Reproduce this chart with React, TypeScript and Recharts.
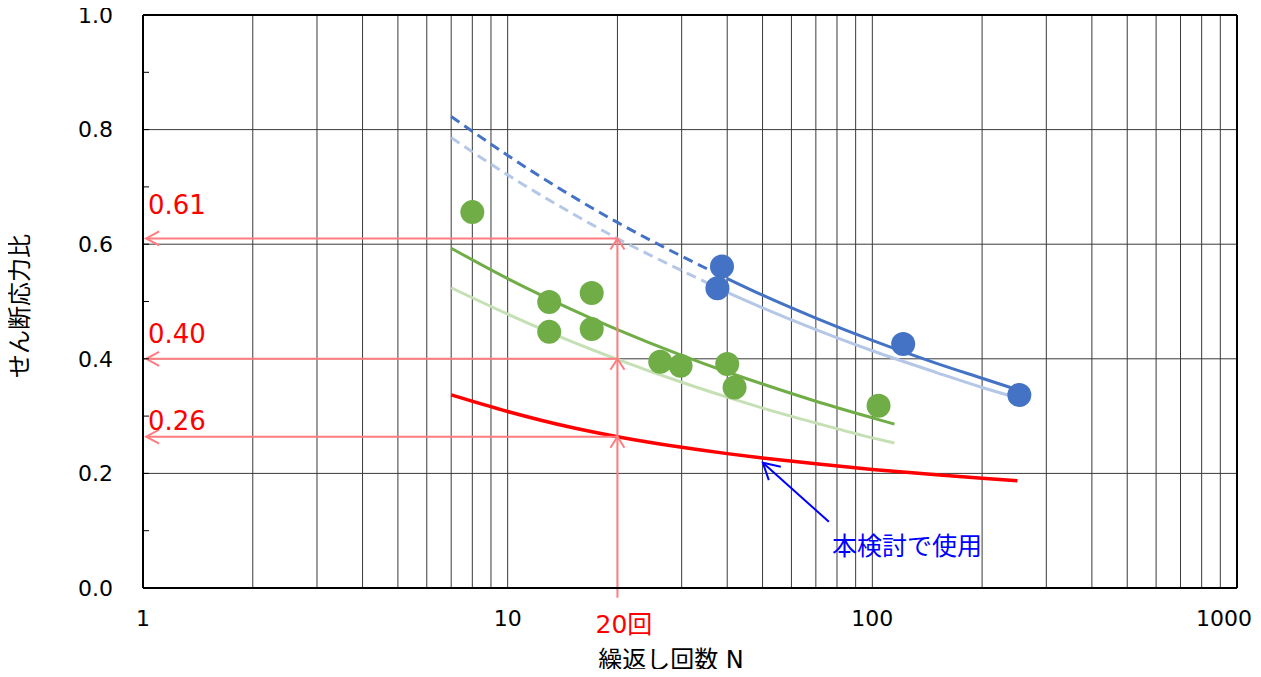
import {
  CartesianGrid,
  ComposedChart,
  Line,
  ReferenceDot,
  ReferenceLine,
  Scatter,
  XAxis,
  YAxis,
} from "recharts";

// fitted curves
const nSteps = [7, 10, 15, 20, 30, 40, 50, 70, 100, 150, 200, 250];
const blueFit = [0.823, 0.755, 0.684, 0.638, 0.579, 0.54, 0.511, 0.471, 0.432, 0.392, 0.366, 0.346];
const blueLowerFit = [0.786, 0.721, 0.654, 0.61, 0.554, 0.516, 0.489, 0.451, 0.414, 0.376, 0.35, 0.332];
const redDesign = [0.337, 0.308, 0.28, 0.264, 0.2455, 0.2345, 0.227, 0.2167, 0.207, 0.1976, 0.1916, 0.1873];

const nGreen = [7, 10, 15, 20, 30, 40, 50, 70, 100, 115];
const greenFit = [0.593, 0.54, 0.486, 0.451, 0.406, 0.377, 0.356, 0.326, 0.297, 0.286];
const greenLowerFit = [0.524, 0.478, 0.43, 0.399, 0.359, 0.333, 0.314, 0.288, 0.262, 0.253];

// test results
const greenN = [8.0, 13.0, 13.0, 17.0, 17.0, 26.2, 29.8, 40.0, 41.9, 104];
const greenRatio = [0.656, 0.499, 0.447, 0.515, 0.452, 0.395, 0.388, 0.391, 0.35, 0.318];
const blueN = [38.7, 37.6, 121.5, 253];
const blueRatio = [0.561, 0.523, 0.426, 0.337];

// axes
const xTicks = [1, 10, 100, 1000];
const xGrid = [
  1, 2, 3, 4, 5, 6, 7, 8, 9, 10, 20, 30, 40, 50, 60, 70, 80, 90, 100, 200, 300, 400, 500, 600,
  700, 800, 900, 1000,
];
const yTicks = [0, 0.1, 0.2, 0.3, 0.4, 0.5, 0.6, 0.7, 0.8, 0.9, 1.0];
const yGrid = [0, 0.2, 0.4, 0.6, 0.8, 1.0];

// reading at 20 cycles
const readN = 20;
const readLevels = [0.264, 0.4, 0.61];
const readLabels = ["0.26", "0.40", "0.61"];

const FONT = '"DejaVu Sans", "Noto Sans CJK JP", sans-serif';
const ARROW_RED = "#FF7C80";

const pts = (ns: number[], vs: number[]) => ns.map((n, i) => ({ n, v: vs[i] }));

const blueAll = pts(nSteps, blueFit);
const blueLowAll = pts(nSteps, blueLowerFit);

const arrowShape = (color: string, width: number, len: number, half: number) => (p: any) => {
  const { x1, y1, x2, y2 } = p;
  const dx = x2 - x1;
  const dy = y2 - y1;
  const d = Math.hypot(dx, dy) || 1;
  const ux = dx / d;
  const uy = dy / d;
  const bx = x2 - ux * len;
  const by = y2 - uy * len;
  return (
    <g>
      <line x1={x1} y1={y1} x2={x2} y2={y2} stroke={color} strokeWidth={width} />
      <polyline
        points={`${bx - uy * half},${by + ux * half} ${x2},${y2} ${bx + uy * half},${by - ux * half}`}
        fill="none"
        stroke={color}
        strokeWidth={width}
      />
    </g>
  );
};

const dot = (color: string) => (p: any) => <circle cx={p.cx} cy={p.cy} r={12} fill={color} />;

// last label is pulled in so it stays inside the picture
const XTick = (p: any) => {
  const { x, y, payload } = p;
  const last = payload.value === 1000;
  return (
    <text
      x={last ? x + 15 : x}
      y={y}
      dy="0.71em"
      textAnchor={last ? "end" : "middle"}
      fill="#000"
      fontSize={22}
      fontFamily={FONT}
    >
      {payload.value}
    </text>
  );
};

const levels = [0, ...readLevels];

const App = () => {
  return (
    <div style={{ position: "relative", width: 1261, height: 669, margin: "-8px 0 0 -8px", fontFamily: FONT }}>
      <ComposedChart width={1261} height={669} margin={{ top: 15, right: 24, bottom: 41, left: 0 }}>
        <CartesianGrid horizontal={false} verticalValues={xGrid} stroke="#3a3a3a" />
        <CartesianGrid vertical={false} horizontalValues={yGrid} stroke="#3a3a3a" />
        <XAxis
          dataKey="n"
          type="number"
          scale="log"
          domain={[1, 1000]}
          ticks={xTicks}
          interval={0}
          allowDataOverflow
          height={40}
          tickLine={false}
          tickMargin={16}
          tick={<XTick />}
          axisLine={{ stroke: "#000", strokeWidth: 2 }}
        />
        <YAxis
          type="number"
          domain={[0, 1]}
          ticks={yTicks}
          interval={0}
          width={143}
          tickSize={-6}
          tickMargin={36}
          tickLine={{ stroke: "#000" }}
          tick={{ fill: "#000", fontSize: 22, fontFamily: FONT }}
          tickFormatter={(v: number) => (Math.round(v * 10) % 2 ? "" : v.toFixed(1))}
          axisLine={{ stroke: "#000", strokeWidth: 2 }}
        />
        <ReferenceLine y={1} stroke="#000" strokeWidth={2} />
        <ReferenceLine x={1000} stroke="#000" strokeWidth={2} />

        <Line data={blueLowAll.filter((d) => d.n <= 40)} dataKey="v" type="monotone" stroke="#B4C7E7" strokeWidth={3} strokeDasharray="10 6" dot={false} isAnimationActive={false} />
        <Line data={blueLowAll.filter((d) => d.n >= 40)} dataKey="v" type="monotone" stroke="#B4C7E7" strokeWidth={3} dot={false} isAnimationActive={false} />
        <Line data={blueAll.filter((d) => d.n <= 40)} dataKey="v" type="monotone" stroke="#4472C4" strokeWidth={3} strokeDasharray="10 6" dot={false} isAnimationActive={false} />
        <Line data={blueAll.filter((d) => d.n >= 40)} dataKey="v" type="monotone" stroke="#4472C4" strokeWidth={3} dot={false} isAnimationActive={false} />
        <Line data={pts(nGreen, greenLowerFit)} dataKey="v" type="monotone" stroke="#C5E0B4" strokeWidth={3} dot={false} isAnimationActive={false} />
        <Line data={pts(nGreen, greenFit)} dataKey="v" type="monotone" stroke="#70AD47" strokeWidth={3} dot={false} isAnimationActive={false} />
        <Line data={pts(nSteps, redDesign)} dataKey="v" type="monotone" stroke="#FF0000" strokeWidth={3.5} dot={false} isAnimationActive={false} />

        <Scatter data={pts(greenN, greenRatio)} dataKey="v" fill="#70AD47" shape={dot("#70AD47")} isAnimationActive={false} />
        <Scatter data={pts(blueN, blueRatio)} dataKey="v" fill="#4472C4" shape={dot("#4472C4")} isAnimationActive={false} />

        {readLevels.map((lv, i) => (
          <ReferenceLine
            key={`v-${i}`}
            segment={[
              { x: readN, y: i === 0 ? -0.017 : levels[i] },
              { x: readN, y: lv },
            ]}
            ifOverflow="visible"
            shape={arrowShape(ARROW_RED, 2, 11, 7)}
          />
        ))}
        {readLevels.map((lv, i) => (
          <ReferenceLine
            key={`h-${i}`}
            segment={[
              { x: readN, y: lv },
              { x: 1.02, y: lv },
            ]}
            ifOverflow="visible"
            shape={arrowShape(ARROW_RED, 2, 13, 7)}
          />
        ))}
        <ReferenceLine
          segment={[
            { x: 76, y: 0.1156 },
            { x: 50.1, y: 0.2186 },
          ]}
          ifOverflow="visible"
          shape={arrowShape("#0000FF", 2, 16, 9)}
        />

        <ReferenceDot x={1} y={0.6695} r={0} ifOverflow="visible"
          label={{ value: readLabels[2], position: "right", offset: 5, fill: "#FF0000", fontSize: 26, fontFamily: FONT }} />
        <ReferenceDot x={1} y={0.4445} r={0} ifOverflow="visible"
          label={{ value: readLabels[1], position: "right", offset: 5, fill: "#FF0000", fontSize: 26, fontFamily: FONT }} />
        <ReferenceDot x={1} y={0.2927} r={0} ifOverflow="visible"
          label={{ value: readLabels[0], position: "right", offset: 5, fill: "#FF0000", fontSize: 26, fontFamily: FONT }} />
        <ReferenceDot x={20.84} y={-0.0623} r={0} ifOverflow="visible"
          label={{ value: "20回", position: "center", fill: "#FF0000", fontSize: 25, fontFamily: FONT }} />
        <ReferenceDot x={124.4} y={0.0738} r={0} ifOverflow="visible"
          label={{ value: "本検討で使用", position: "center", fill: "#0000FF", fontSize: 25, fontFamily: FONT }} />
      </ComposedChart>

      <div
        style={{
          position: "absolute",
          left: 671,
          top: 660,
          transform: "translate(-50%, -50%)",
          whiteSpace: "nowrap",
          fontSize: 24,
          lineHeight: "28px",
          color: "#000",
        }}
      >
        繰返し回数 N
      </div>
      <div
        style={{
          position: "absolute",
          left: 20,
          top: 306,
          transform: "translate(-50%, -50%) rotate(-90deg)",
          whiteSpace: "nowrap",
          fontSize: 24,
          lineHeight: "28px",
          color: "#000",
        }}
      >
        せん断応力比
      </div>
    </div>
  );
};

export default App;
